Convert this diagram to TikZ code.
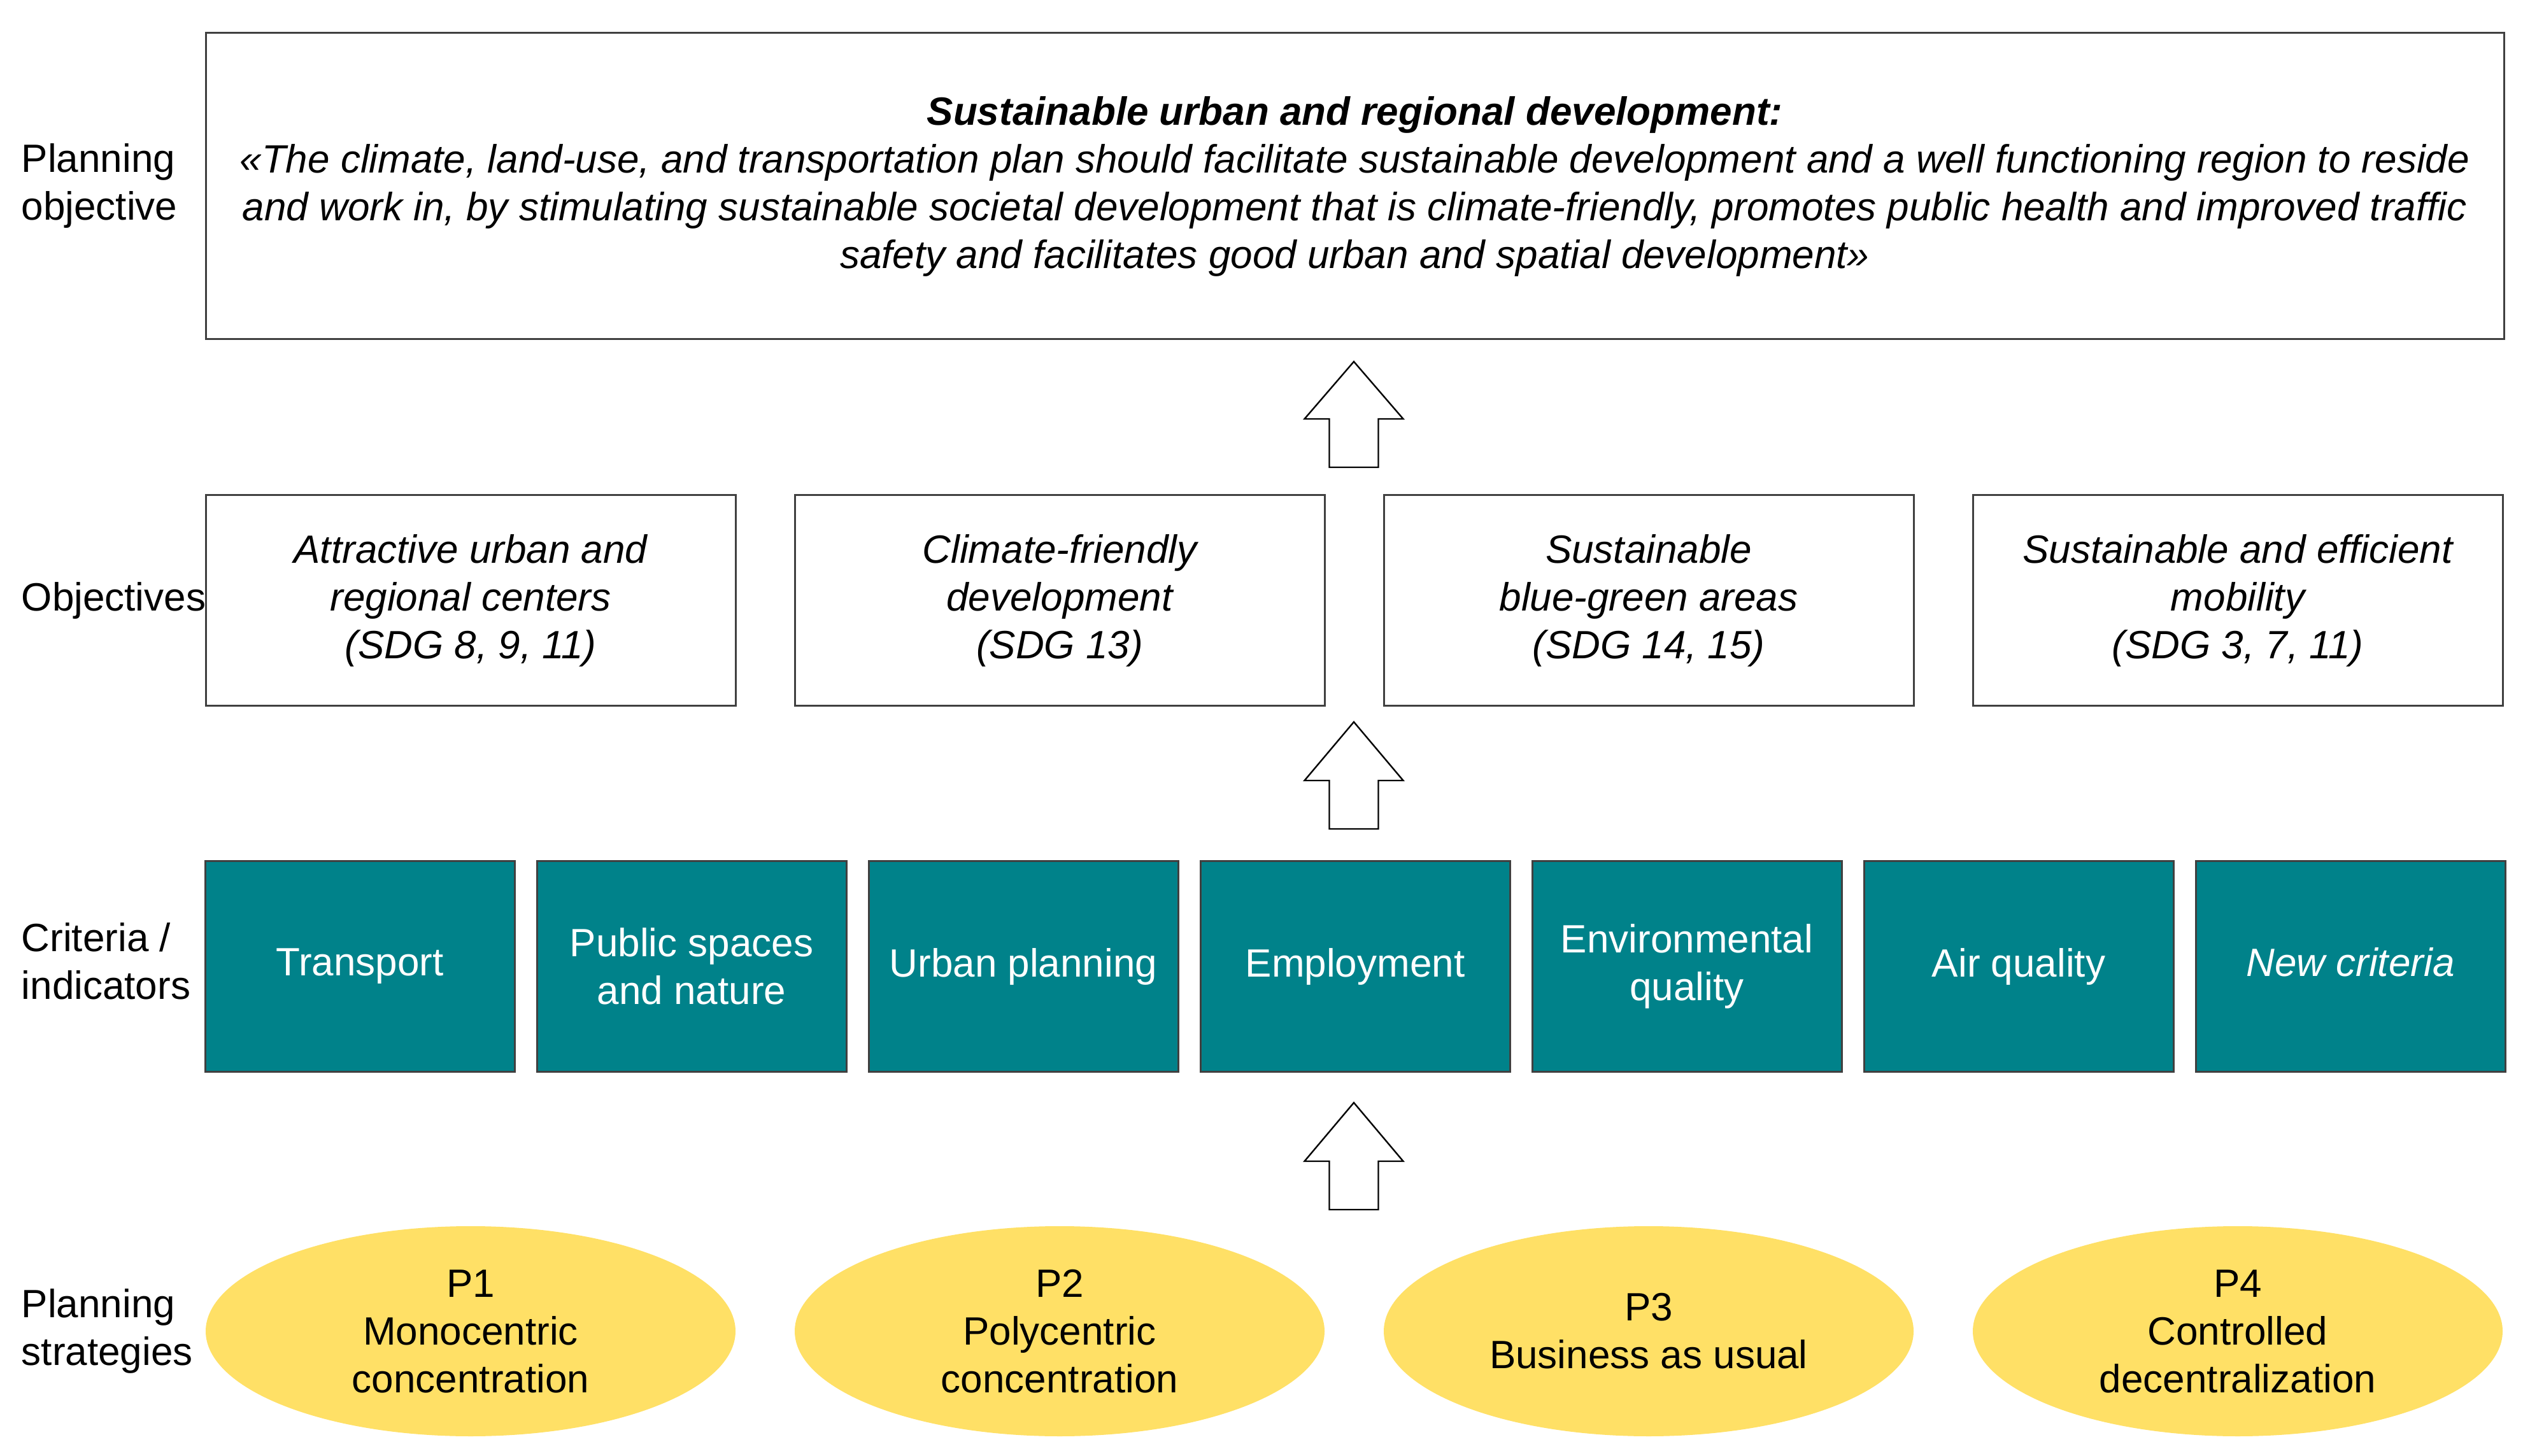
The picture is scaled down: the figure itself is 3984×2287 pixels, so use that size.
\documentclass[tikz,border=0pt]{standalone}
\usepackage{fontspec}
\setmainfont{Liberation Sans}
\usetikzlibrary{positioning,shapes.geometric}
\definecolor{critteal}{HTML}{00828A}
\definecolor{stratyellow}{HTML}{FFE066}
\definecolor{linegray}{HTML}{404040}

\begin{document}
\begin{tikzpicture}[x=0.25pt,y=-0.25pt,
  every node/.style={font=\fontsize{15.5}{18.75}\selectfont},
  box/.style={draw=linegray,line width=0.75pt,outer sep=0pt,align=center,inner sep=0pt,font=\fontsize{15.5}{18.75}\selectfont\itshape},
  obj/.style={box,minimum width=208pt,minimum height=82.75pt},
  crit/.style={draw=linegray,line width=0.75pt,outer sep=0pt,fill=critteal,text=white,align=center,inner sep=0pt,minimum width=121.5pt,minimum height=82.5pt},
  strat/.style={ellipse,fill=stratyellow,outer sep=0pt,align=center,inner sep=0pt,minimum width=208pt,minimum height=82.5pt},
  lbl/.style={anchor=west,align=left,inner sep=0pt},
  uparrow/.style={draw=black,line width=0.6pt,fill=white,line join=miter}]
\useasboundingbox (0,0) rectangle (3984,2287);

\node[box,minimum width=902.25pt,minimum height=120.25pt] (goal) at (2127.5,292.5) {\textbf{Sustainable urban and regional development:}\\«The climate, land-use, and transportation plan should facilitate sustainable development and a well functioning region to reside\\and work in, by stimulating sustainable societal development that is climate-friendly, promotes public health and improved traffic\\safety and facilitates good urban and spatial development»};

\node[obj] (o1) at (739,943.5) {Attractive urban and\\regional centers\\(SDG 8, 9, 11)};
\node[obj] (o2) [right=23.25pt of o1] {Climate-friendly\\development\\(SDG 13)};
\node[obj] (o3) [right=23.25pt of o2] {Sustainable\\blue-green areas\\(SDG 14, 15)};
\node[obj] (o4) [right=23.25pt of o3] {Sustainable and efficient\\mobility\\(SDG 3, 7, 11)};

\node[crit] (c1) at (565,1518) {Transport};
\node[crit] (c2) [right=8.75pt of c1] {Public spaces\\and nature};
\node[crit] (c3) [right=8.75pt of c2] {Urban planning};
\node[crit] (c4) [right=8.75pt of c3] {Employment};
\node[crit] (c5) [right=8.75pt of c4] {Environmental\\quality};
\node[crit] (c6) [right=8.75pt of c5] {Air quality};
\node[crit] (c7) [right=8.75pt of c6] {\itshape New criteria\strut};

\node[strat] (p1) at (739,2091) {P1\\Monocentric\\concentration};
\node[strat] (p2) [right=23.25pt of p1] {P2\\Polycentric\\concentration};
\node[strat] (p3) [right=23.25pt of p2] {P3\\Business as usual};
\node[strat] (p4) [right=23.25pt of p3] {P4\\Controlled\\decentralization};

\node[lbl] (l1) at (33,292) {Planning\\objective};
\node[lbl] (l2) at (33,943.5) {Objectives};
\node[lbl] (l3) at (33,1510) {Criteria /\\indicators};
\node[lbl] (l4) at (33,2091) {Planning\\strategies};

\coordinate (a1) at (2126,568);
\coordinate (a2) at (2126,1134);
\coordinate (a3) at (2126,1732);
\draw[uparrow] (a1) -- ++(77.5,90) -- ++(-39,0) -- ++(0,76) -- ++(-77,0) -- ++(0,-76) -- ++(-39,0) -- cycle;
\draw[uparrow] (a2) -- ++(77.5,92) -- ++(-39,0) -- ++(0,76) -- ++(-77,0) -- ++(0,-76) -- ++(-39,0) -- cycle;
\draw[uparrow] (a3) -- ++(77.5,92) -- ++(-39,0) -- ++(0,76) -- ++(-77,0) -- ++(0,-76) -- ++(-39,0) -- cycle;
\end{tikzpicture}
\end{document}
